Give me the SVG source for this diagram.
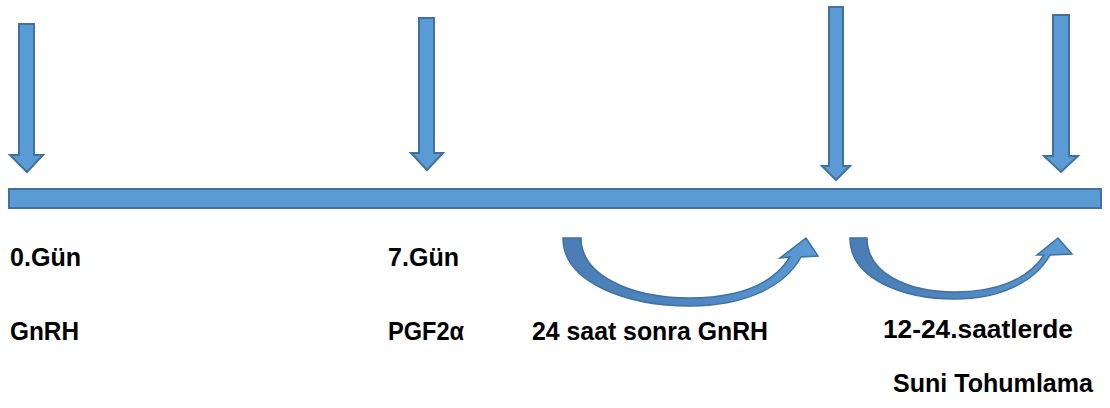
<svg xmlns="http://www.w3.org/2000/svg" width="1110" height="408" viewBox="0 0 1110 408">
  <style>
    .shape { fill: #5B9BD5; stroke: #41719C; stroke-width: 2; stroke-linejoin: miter; }
    .curve { fill: url(#curveFill); stroke: #41719C; stroke-width: 1.5; stroke-linejoin: miter; }
    .label { font-family: "Liberation Sans", Arial, sans-serif; font-weight: bold; font-size: 25px; fill: #000; }
  </style>
  <defs>
    <linearGradient id="curveFill" x1="0" y1="0" x2="1" y2="0">
      <stop offset="0" stop-color="#4A7DB5"/>
      <stop offset="0.55" stop-color="#4F88C4"/>
      <stop offset="1" stop-color="#5B9BD5"/>
    </linearGradient>
  </defs>

  <!-- timeline bar -->
  <g id="timeline">
    <rect class="shape" x="9" y="189" width="1092" height="19"/>
  </g>

  <!-- down arrows marking each event -->
  <g id="day0-arrow">
    <path class="shape" d="M19,24 H34 V155 H43 L27,172 L10,155 H19 Z"/>
  </g>
  <g id="day7-arrow">
    <path class="shape" d="M419,18 H434 V153 H443 L427,170 L411,153 H419 Z"/>
  </g>
  <g id="gnrh-arrow">
    <path class="shape" d="M829,7 H843 V166 H850 L836,180 L822,166 H829 Z"/>
  </g>
  <g id="ai-arrow">
    <path class="shape" d="M1053,15 H1069 V156 H1078 L1061,172 L1044,156 H1053 Z"/>
  </g>

  <!-- curved interval arrows -->
  <g id="connectors">
    <path class="curve" d="M563,238 C563,284 630,306 690,306 C742,306 784,288 801,257 L818,256 L806,238 L780,258 L790,257 C772,286 735,298 690,298 C628,298 581,274 581,238 Z"/>
    <path class="curve" d="M850,238 C850,280 905,299 955,299 C1000,299 1035,282 1050,255 L1072,254 L1058,238 L1037,255 L1044,255 C1028,280 995,292 955,292 C905,292 867,272 867,238 Z"/>
  </g>

  <!-- labels -->
  <g id="labels">
    <text class="label" x="10" y="266" textLength="71" lengthAdjust="spacingAndGlyphs">0.Gün</text>
    <text class="label" x="10" y="340" textLength="69" lengthAdjust="spacingAndGlyphs">GnRH</text>
    <text class="label" x="388" y="266" textLength="71" lengthAdjust="spacingAndGlyphs">7.Gün</text>
    <text class="label" x="388" y="340" textLength="76" lengthAdjust="spacingAndGlyphs">PGF2α</text>
    <text class="label" x="532" y="340" textLength="236" lengthAdjust="spacingAndGlyphs">24 saat sonra GnRH</text>
    <text class="label" x="883" y="338" textLength="190" lengthAdjust="spacingAndGlyphs">12-24.saatlerde</text>
    <text class="label" x="893" y="392" textLength="200" lengthAdjust="spacingAndGlyphs">Suni Tohumlama</text>
  </g>
</svg>
